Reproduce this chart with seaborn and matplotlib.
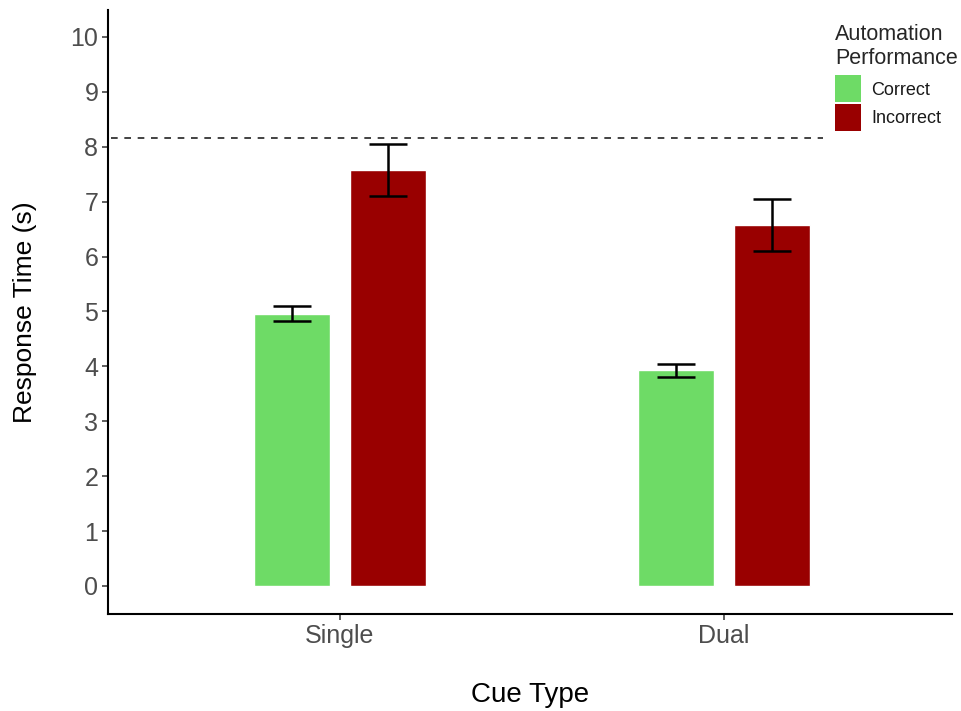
import matplotlib
matplotlib.use("Agg")
import matplotlib.pyplot as plt
import seaborn as sns
import pandas as pd
import numpy as np

# ---- data ----
cue_types = ["Single", "Dual"]
performance = ["Correct", "Incorrect"]
mean_correct = [4.96, 3.93]
mean_incorrect = [7.58, 6.58]
err_correct = [0.14, 0.12]
err_incorrect = [0.47, 0.47]
reference_line = 8.15
y_ticks = [0, 1, 2, 3, 4, 5, 6, 7, 8, 9, 10]

colors = {"Correct": "#6EDB66", "Incorrect": "#990000"}

df = pd.DataFrame({
    "Cue Type": cue_types * 2,
    "Automation Performance": ["Correct"] * len(cue_types) + ["Incorrect"] * len(cue_types),
    "Response Time (s)": mean_correct + mean_incorrect,
    "err": err_correct + err_incorrect,
})

sns.set_theme(style="white")
plt.rcParams["font.family"] = ["Liberation Sans", "DejaVu Sans"]

fig = plt.figure(figsize=(9.61, 7.11), dpi=100)
ax = fig.add_axes([108 / 961, 1 - 614 / 711, (952 - 108) / 961, (614 - 10) / 711])

sns.barplot(data=df, x="Cue Type", y="Response Time (s)", hue="Automation Performance",
            order=cue_types, hue_order=performance, palette=colors,
            width=0.5, gap=0.2, errorbar=None, ax=ax, saturation=1)

# error bars from the data
for cont, level in zip(ax.containers, performance):
    sub = df[df["Automation Performance"] == level].set_index("Cue Type").loc[cue_types]
    for bar, (_, row) in zip(cont, sub.iterrows()):
        xc = bar.get_x() + bar.get_width() / 2
        ax.errorbar(xc, row["Response Time (s)"], yerr=row["err"], color="black",
                    elinewidth=1.8, capsize=bar.get_width() * 384 / 2 / 1.39 / 2,
                    capthick=1.8, zorder=5)

# dashed reference line
ax.plot([-0.7, 1.258], [reference_line, reference_line], linestyle=(0, (4, 4)),
        color="#222222", linewidth=1.2, zorder=4)

ax.set_xlim(-0.604, 1.594)
ax.set_ylim(-0.51, 10.49)
ax.set_yticks(y_ticks)

for side in ["top", "right"]:
    ax.spines[side].set_visible(False)
for side in ["left", "bottom"]:
    ax.spines[side].set_linewidth(1.5)
    ax.spines[side].set_color("black")

ax.tick_params(axis="both", which="major", length=4, width=1.1, color="#333333",
               labelsize=18, labelcolor="#4D4D4D", left=True, bottom=True, pad=3)

ax.set_xlabel("Cue Type", fontsize=20, color="black", labelpad=25)
ax.set_ylabel("Response Time (s)", fontsize=19, color="black", labelpad=24)

leg = ax.legend(title="Automation\nPerformance", loc="upper left",
                bbox_to_anchor=(835 / 961, 1 - 24 / 711), bbox_transform=fig.transFigure,
                frameon=False, fontsize=13, title_fontsize=15.5, handlelength=1.45,
                handleheight=1.9, labelspacing=0.12, handletextpad=0.55,
                borderaxespad=0, borderpad=0, alignment="left")
for h in leg.legend_handles:
    h.set_edgecolor("none")
for t in leg.get_texts():
    t.set_color("#1A1A1A")
leg._legend_box.sep = 4.5

fig.savefig("out.png", dpi=100)
